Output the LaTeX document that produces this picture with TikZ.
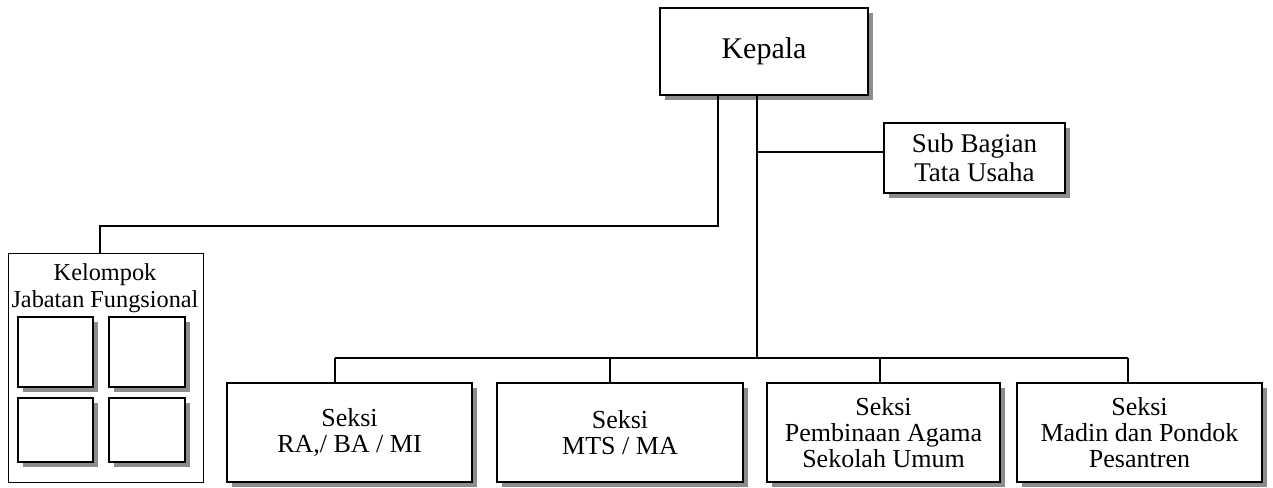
\documentclass[tikz,border=0pt]{standalone}
\usepackage{fontspec}
\setmainfont{Liberation Serif}
\usetikzlibrary{shadows}
\tikzset{
  box/.style={draw=black, line width=1.1pt, fill=white, inner sep=0pt, align=center,
    drop shadow={shadow xshift=5pt, shadow yshift=-5pt, fill=black!45, opacity=1}},
  plainbox/.style={draw=black, line width=0.9pt, fill=white, inner sep=0pt},
  conn/.style={line width=1.3pt, black},
}
\begin{document}
\begin{tikzpicture}[x=1pt,y=-1pt]
\useasboundingbox (0,0) rectangle (1273,487);
% top
\node[box, minimum width=208pt, minimum height=87pt, font=\fontsize{30}{30}\selectfont] (kep) at (764,51.5) {Kepala};
\node[box, minimum width=181pt, minimum height=70pt, font=\fontsize{27}{29}\selectfont] (sub) at (974.5,158) {Sub Bagian\\Tata Usaha};
% kelompok
\node[plainbox, minimum width=195pt, minimum height=229pt, anchor=north west] (kel) at (8,253) {};
\node[font=\fontsize{24.3}{27.5}\selectfont, align=center, anchor=north] (keltxt) at (105,260) {Kelompok\\Jabatan Fungsional};
\node[box, minimum width=75pt, minimum height=70pt] (f1) at (55.5,352) {};
\node[box, minimum width=76pt, minimum height=70pt] (f2) at (147,352) {};
\node[box, minimum width=75pt, minimum height=64pt] (f3) at (55.5,430) {};
\node[box, minimum width=76pt, minimum height=64pt] (f4) at (147,430) {};
% bottom boxes
\tikzset{sbox/.style={box, minimum height=99pt, font=\fontsize{26}{26}\selectfont}}
\node[sbox, minimum width=245pt] (b1) at (349.5,432.5) {Seksi\\RA,/ BA / MI};
\node[sbox, minimum width=246pt] (b2) at (620,432.5) {Seksi\\MTS / MA};
\node[sbox, minimum width=233pt] (b3) at (883.5,432.5) {Seksi\\Pembinaan Agama\\Sekolah Umum};
\node[sbox, minimum width=245pt] (b4) at (1139.5,432.5) {Seksi\\Madin dan Pondok\\Pesantren};
% connectors
\coordinate (kl) at (718,226);
\coordinate (kr) at (757,358);
\coordinate (kt) at (757,152);
\coordinate (d1) at (335,358);
\coordinate (d2) at (610,358);
\coordinate (d3) at (880,358);
\coordinate (d4) at (1128,358);
\draw[conn] (kl |- kep.south) -- (kl) -| (kel.north -| 100,0);
\draw[conn] (kr |- kep.south) -- (kr);
\draw[conn] (kt) -- (sub.west |- kt);
\draw[conn] (d1) -- (d4);
\draw[conn] (d1) -- (d1 |- b1.north);
\draw[conn] (d2) -- (d2 |- b2.north);
\draw[conn] (d3) -- (d3 |- b3.north);
\draw[conn] (d4) -- (d4 |- b4.north);
\end{tikzpicture}
\end{document}
